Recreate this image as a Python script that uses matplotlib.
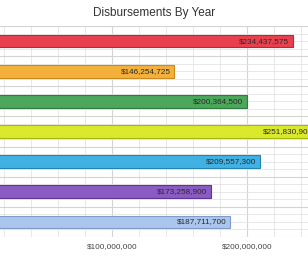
import matplotlib.pyplot as plt
from matplotlib.ticker import MultipleLocator, FuncFormatter

plt.rcParams['font.family'] = ['Liberation Sans', 'DejaVu Sans']

# values, top to bottom
amounts = [234437575, 146254725, 200364500, 251830900, 209557300, 173258900, 187711700]
colors = ['#e8404e', '#f3b13c', '#4ca75a', '#dbe92c', '#41b1e3', '#8a5bc2', '#abc6ec']
edges = ['#b52a35', '#c98a1f', '#2f7c3c', '#a9b60f', '#2384b0', '#5e3690', '#7f9cc8']
tick_values = [100000000, 200000000]

fig = plt.figure(figsize=(3.08, 2.57), dpi=100)
# the source chart is cropped: the zero line sits left of the picture
ax = fig.add_axes([-23 / 308, 20 / 257, 351 / 308, 211 / 257])

pos = list(range(len(amounts)))
ax.barh(pos, amounts, height=0.42, color=colors, edgecolor=edges, linewidth=0.8, zorder=3)
for p, v in zip(pos, amounts):
    ax.text(v - 3000000, p, '${:,}'.format(v), ha='right', va='center',
            fontsize=5.9, color='#2a2a2a', zorder=4)

ax.set_xlim(0, 260000000)
ax.set_ylim(len(amounts) - 0.5, -0.5)
ax.set_xticks(tick_values)
ax.xaxis.set_major_formatter(FuncFormatter(lambda x, _: '${:,.0f}'.format(x)))
ax.xaxis.set_minor_locator(MultipleLocator(20000000))
ax.set_yticks([i - 0.5 for i in range(len(amounts) + 1)])
ax.yaxis.set_minor_locator(MultipleLocator(0.25))
ax.set_yticklabels([])
ax.tick_params(axis='both', which='both', length=0, labelsize=5.9, labelcolor='#444444')
ax.tick_params(axis='x', pad=4)
ax.grid(which='major', color='#d4d4d4', linewidth=0.8, zorder=0)
ax.grid(which='minor', color='#e4e4e4', linewidth=0.6, zorder=0)
for s in ax.spines.values():
    s.set_visible(False)

fig.text(0.5, 1 - 13 / 257, 'Disbursements By Year', ha='center', va='center',
         fontsize=8.5, color='#333333')

fig.savefig('out.png', dpi=100)
